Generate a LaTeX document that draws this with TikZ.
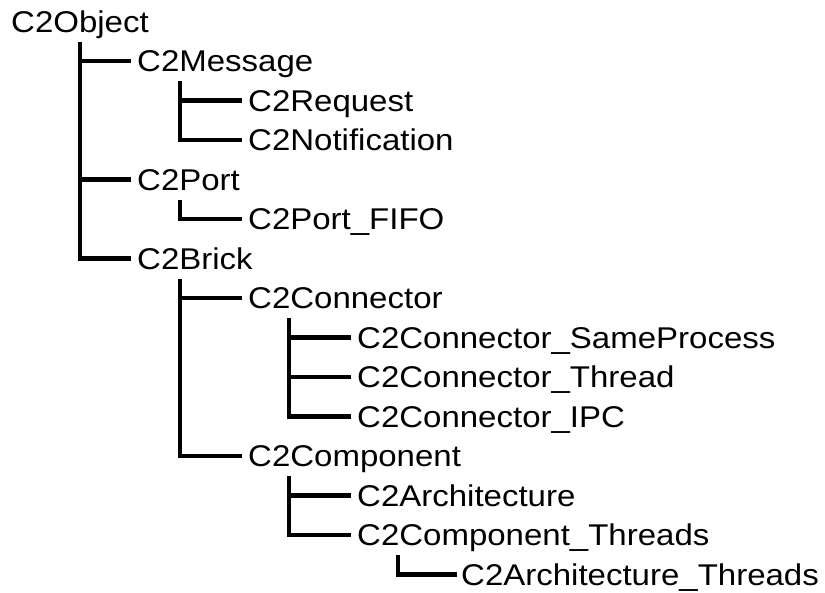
\documentclass[tikz,border=0pt]{standalone}
\usepackage{fontspec}
\setmainfont{Liberation Sans}[FakeStretch=1.1]
\begin{document}
\begin{tikzpicture}[x=1pt,y=-1pt,
  cls/.style={anchor=west,inner sep=0pt,text height=21.5pt,text depth=0pt,
    font=\fontsize{30}{36}\selectfont},
  link/.style={line width=4.8pt,line join=miter,line cap=butt}]
\useasboundingbox (0,0) rectangle (825,592);
\def\rh{39.5}
% nodes
\node[cls] (obj)  at (11,21.5+0*\rh) {C2Object};
\node[cls] (msg)  at (137,21.5+1*\rh) {C2Message};
\node[cls] (req)  at (248,21.5+2*\rh) {C2Request};
\node[cls] (noti) at (248,21.5+3*\rh) {C2Notification};
\node[cls] (port) at (137,21.5+4*\rh) {C2Port};
\node[cls] (fifo) at (248,21.5+5*\rh) {C2Port\_FIFO};
\node[cls] (brick) at (137,21.5+6*\rh) {C2Brick};
\node[cls] (conn) at (248,21.5+7*\rh) {C2Connector};
\node[cls] (same) at (357,21.5+8*\rh) {C2Connector\_SameProcess};
\node[cls] (thr)  at (357,21.5+9*\rh) {C2Connector\_Thread};
\node[cls] (ipc)  at (357,21.5+10*\rh) {C2Connector\_IPC};
\node[cls] (comp) at (248,21.5+11*\rh) {C2Component};
\node[cls] (arch) at (357,21.5+12*\rh) {C2Architecture};
\node[cls] (cthr) at (357,21.5+13*\rh) {C2Component\_Threads};
\node[cls] (athr) at (461,21.5+14*\rh) {C2Architecture\_Threads};
% vertical tops
\coordinate (vobj)   at (80,21.5+0*\rh+20);
\coordinate (vmsg)   at (180,21.5+1*\rh+20);
\coordinate (vport)  at (180,21.5+4*\rh+20);
\coordinate (vbrick) at (180,21.5+6*\rh+20);
\coordinate (vconn)  at (289,21.5+7*\rh+20);
\coordinate (vcomp)  at (289,21.5+11*\rh+20);
\coordinate (vcthr)  at (398,21.5+13*\rh+20);
% connectors
\foreach \c in {msg,port,brick} \draw[link] (vobj) |- ([xshift=-6pt]\c.west);
\foreach \c in {req,noti} \draw[link] (vmsg) |- ([xshift=-6pt]\c.west);
\draw[link] (vport) |- ([xshift=-6pt]fifo.west);
\foreach \c in {conn,comp} \draw[link] (vbrick) |- ([xshift=-6pt]\c.west);
\foreach \c in {same,thr,ipc} \draw[link] (vconn) |- ([xshift=-6pt]\c.west);
\foreach \c in {arch,cthr} \draw[link] (vcomp) |- ([xshift=-6pt]\c.west);
\draw[link] (vcthr) |- ([xshift=-4pt]athr.west);
\end{tikzpicture}
\end{document}
